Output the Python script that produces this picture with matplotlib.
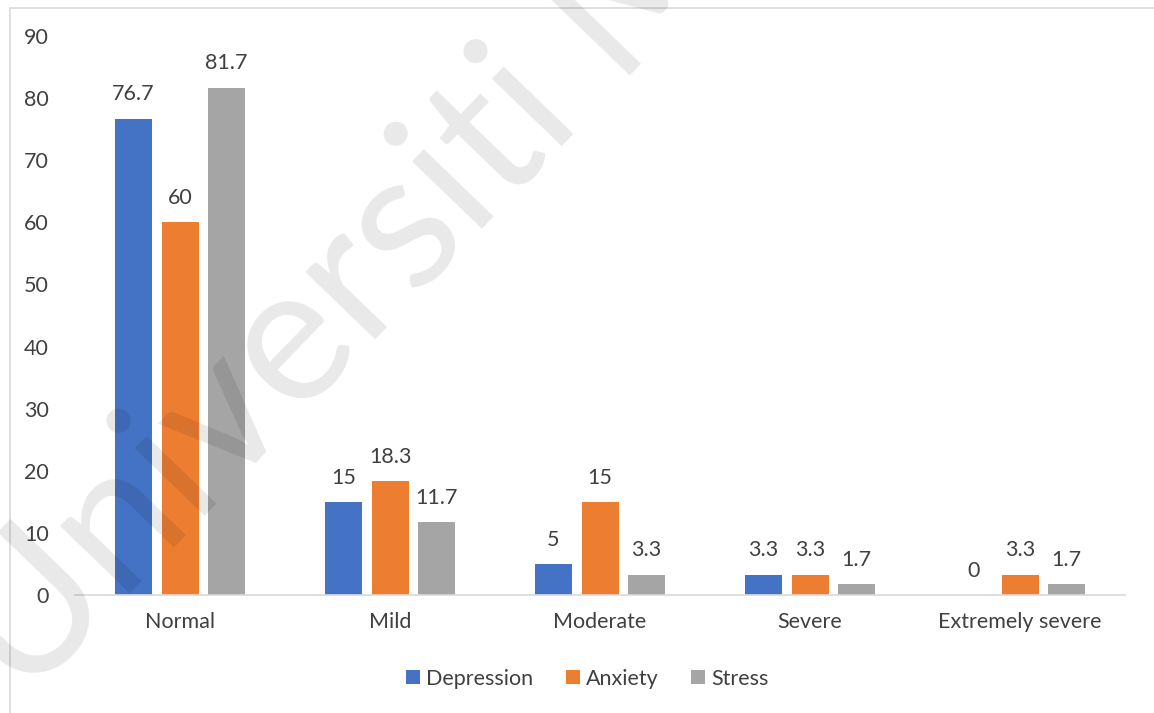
import numpy as np
import matplotlib.pyplot as plt
from matplotlib.patches import Rectangle

categories = ["Normal", "Mild", "Moderate", "Severe", "Extremely severe"]
depression = [76.7, 15, 5, 3.3, 0]
anxiety = [60, 18.3, 15, 3.3, 3.3]
stress = [81.7, 11.7, 3.3, 1.7, 1.7]
series_names = ["Depression", "Anxiety", "Stress"]
colors = ["#4472C4", "#ED7D31", "#A5A5A5"]
yticks = np.arange(0, 91, 10)

plt.rcParams['font.family'] = ['Lato', 'DejaVu Sans']
text_color = "#404040"
fs = 15.5

fig = plt.figure(figsize=(11.54, 7.13), dpi=100)
ax = fig.add_axes([0.065, 0.1655, 0.91, 0.784])

# light frame round the whole chart
fig.patches.append(Rectangle((10 / 1154, -0.05), 1.1, 1 - 8 / 713 + 0.05,
                             transform=fig.transFigure, fill=False,
                             edgecolor="#D9D9D9", linewidth=1.2))

x = np.arange(len(categories))
width = 0.176
step = 0.222
for i, (vals, name, c) in enumerate(zip([depression, anxiety, stress], series_names, colors)):
   pos = x + (i - 1) * step
   bars = ax.bar(pos, vals, width, color=c, label=name, zorder=2)
   for b, v in zip(bars, vals):
      ax.text(b.get_x() + b.get_width() / 2, v + 2.3, "{:g}".format(v),
              ha="center", va="bottom", fontsize=fs, color=text_color)

ax.set_xlim(-0.5, len(categories) - 0.5)
ax.set_ylim(0, 90)
ax.set_yticks(yticks)
ax.set_xticks(x)
ax.set_xticklabels(categories)
ax.tick_params(axis="both", length=0, labelsize=fs, labelcolor=text_color)
ax.tick_params(axis="y", pad=19)
ax.tick_params(axis="x", pad=12)
for s in ["top", "right", "left"]:
   ax.spines[s].set_visible(False)
ax.spines["bottom"].set_color("#D9D9D9")
ax.spines["bottom"].set_linewidth(1.2)

leg = fig.legend(loc="center", bbox_to_anchor=(0.509, 0.048), ncol=3, frameon=False,
                 fontsize=fs, handlelength=0.65, handleheight=0.65, handletextpad=0.3,
                 columnspacing=1.5)
for t in leg.get_texts():
   t.set_color(text_color)

# faint diagonal watermark, clipped by the figure edge
fig.text(0.02, 0.012, "Universiti Malaya", rotation=46, rotation_mode="anchor",
         fontsize=138, color="black", alpha=0.09, ha="left", va="baseline",
         zorder=10)

fig.savefig("out.png", dpi=100)
